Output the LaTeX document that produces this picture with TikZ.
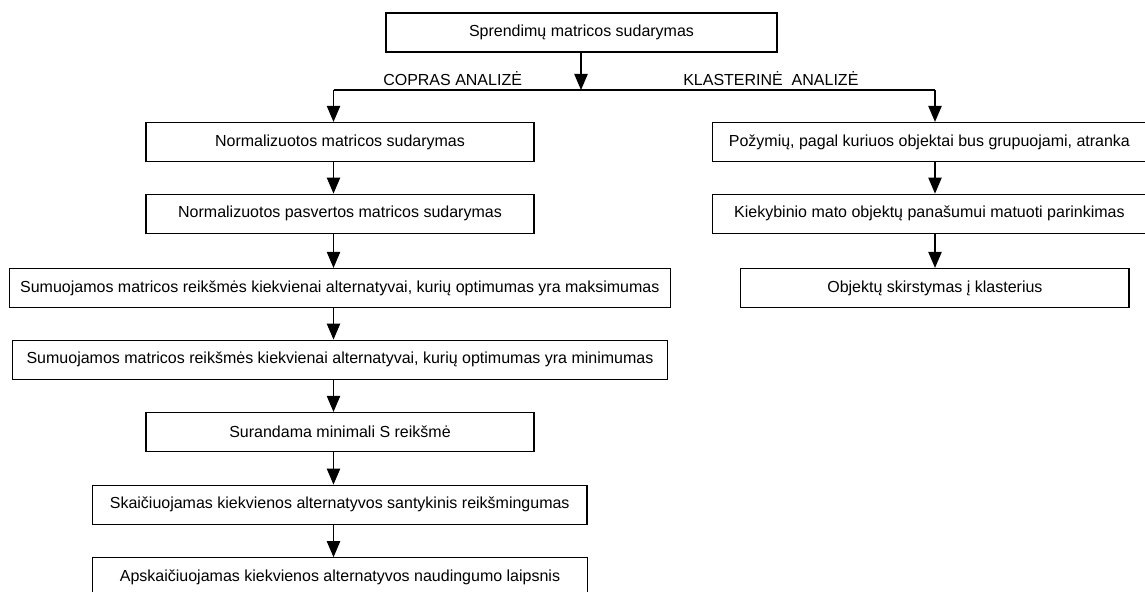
\documentclass[tikz,border=0pt]{standalone}
\usepackage{fontspec}
\setmainfont{Liberation Sans}
\usetikzlibrary{arrows.meta}
\newcommand\pxu{0.75pt}

\begin{document}
\begin{tikzpicture}[x=0.75pt,y=-0.75pt,
  blok/.style={draw,line width=0.9pt,minimum height=39*\pxu,inner sep=0pt,font=\fontsize{12}{14}\selectfont},
  lab/.style={inner sep=0pt,anchor=base west,font=\fontsize{12}{14}\selectfont},
  pil/.style={line width=0.9pt,-{Triangle[length=12pt,width=10pt]}}]
\useasboundingbox (0,0) rectangle (1145,592);
% virsus
\node[blok,minimum width=391*\pxu] (top) at (581.5,32.5) {Sprendimų matricos sudarymas};
\coordinate (split) at (581,90);
\coordinate (colL) at (333.5,90);
\coordinate (colR) at (935,90);
\node[lab] (copras) at (383,85) {COPRAS ANALIZĖ};
\node[lab] (klast) at (683,85) {KLASTERINĖ\ \ ANALIZĖ};
% COPRAS stulpelis
\node[blok,minimum width=388*\pxu] (L1) at (340,142) {Normalizuotos matricos sudarymas};
\node[blok,minimum width=388*\pxu] (L2) at (340,213.7) {Normalizuotos pasvertos matricos sudarymas};
\node[blok,minimum width=661*\pxu] (L3) at (339.8,288) {Sumuojamos matricos reikšmės kiekvienai alternatyvai, kurių optimumas yra maksimumas};
\node[blok,minimum width=654.6*\pxu] (L4) at (340,359.7) {Sumuojamos matricos reikšmės kiekvienai alternatyvai, kurių optimumas yra minimumas};
\node[blok,minimum width=388*\pxu] (L5) at (340,432) {Surandama minimali S reikšmė};
\node[blok,minimum width=494.7*\pxu] (L6) at (339.7,504.7) {Skaičiuojamas kiekvienos alternatyvos santykinis reikšmingumas};
\node[blok,minimum width=495.4*\pxu] (L7) at (340,577.3) {Apskaičiuojamas kiekvienos alternatyvos naudingumo laipsnis};
% klasterine analize
\node[blok,minimum width=433.3*\pxu] (R1) at (929.4,142) {Požymių, pagal kuriuos objektai bus grupuojami, atranka};
\node[blok,minimum width=433.3*\pxu] (R2) at (929.4,213.7) {Kiekybinio mato objektų panašumui matuoti parinkimas};
\node[blok,minimum width=388.3*\pxu] (R3) at (934.9,288) {Objektų skirstymas į klasterius};
% rodykles
\draw[pil] (top.south -| split) -- (split);
\draw[line width=0.9pt] (colL) -- (colR);
\draw[pil] (colL) -- (L1.north -| colL);
\draw[pil] (colR) -- (R1.north -| colR);
\foreach \a/\b in {L1/L2,L2/L3,L3/L4,L4/L5,L5/L6,L6/L7}
  \draw[pil] (\a.south -| colL) -- (\b.north -| colL);
\foreach \a/\b in {R1/R2,R2/R3}
  \draw[pil] (\a.south -| colR) -- (\b.north -| colR);
\end{tikzpicture}
\end{document}
